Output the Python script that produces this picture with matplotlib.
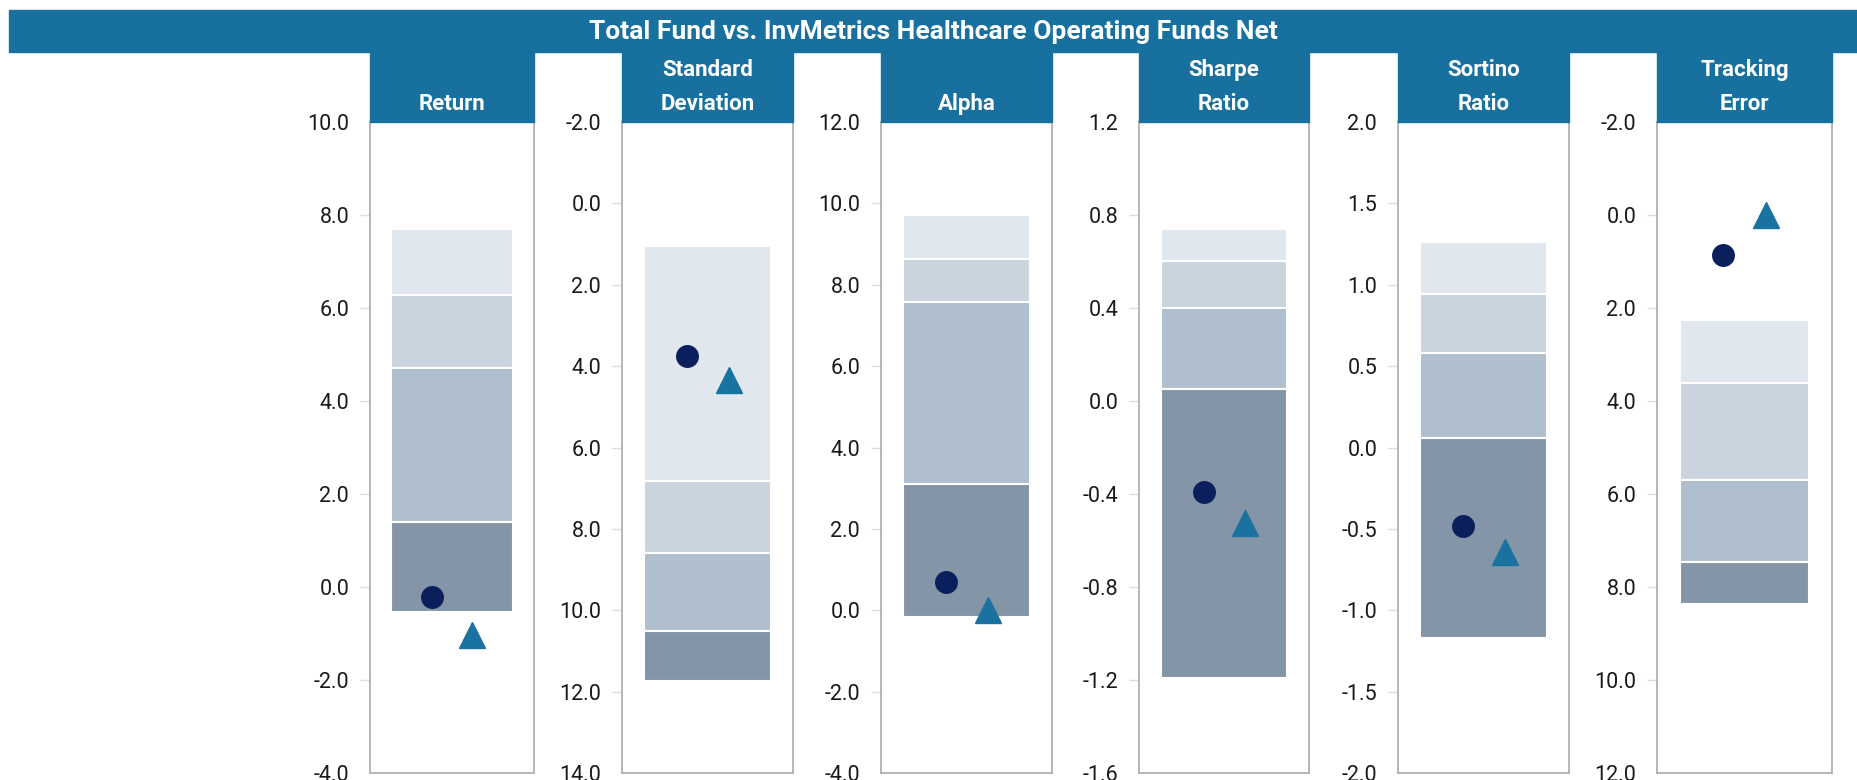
"""
Peer ranking floating bars: Total Fund vs. InvMetrics Healthcare Operating Funds Net
"""
import matplotlib
matplotlib.use('Agg')
import matplotlib.pyplot as plt
from matplotlib.patches import Rectangle

plt.rcParams['font.family'] = ['Roboto', 'DejaVu Sans']

# data
title = 'Total Fund vs. InvMetrics Healthcare Operating Funds Net'
metrics = ['Return', 'Standard\nDeviation', 'Alpha', 'Sharpe\nRatio',
           'Sortino\nRatio', 'Tracking\nError']
# percentile band edges, best -> worst (5th, 25th, median, 75th, 95th)
p05 = [7.69, 1.04, 9.71, 0.74, 1.26, 2.25]
p25 = [6.28, 6.83, 8.64, 0.60, 0.945, 3.62]
p50 = [4.70, 8.60, 7.57, 0.40, 0.58, 5.70]
p75 = [1.39, 10.50, 3.10, 0.05, 0.06, 7.47]
p95 = [-0.53, 11.73, -0.17, -1.19, -1.17, 8.36]
total_fund = [-0.21, 3.74, 0.69, -0.39, -0.48, 0.87]
benchmark = [-1.03, 4.34, 0.00, -0.525, -0.64, 0.00]
y_min = [-4.0, -2.0, -4.0, -1.6, -2.0, -2.0]
y_max = [10.0, 14.0, 12.0, 1.2, 2.0, 12.0]
y_step = [2.0, 2.0, 2.0, 0.4, 0.5, 2.0]
inverted = [False, True, False, False, False, True]

# styling
band_colors = ['#e1e7ef', '#cad4df', '#afbfce', '#8595a8']
header_color = '#17709d'
fund_color = '#0b1f5c'
bench_color = '#1a72a0'
W, H = 1858, 780

fig = plt.figure(figsize=(W / 100, H / 100), dpi=100)

# title banner
fig.patches.append(Rectangle((9 / W, 1 - 52 / H), 1 - 9 / W, 42 / H,
                             transform=fig.transFigure, color=header_color,
                             zorder=0))
fig.text((9 + W) / 2 / W, 1 - 32 / H, title, color='white',
         fontsize=19, fontweight='bold', ha='center', va='center')

lefts = [370, 622, 881, 1139, 1398, 1657]
widths = [164, 171, 171, 170, 171, 175]
ax_top, ax_bottom = 122, 773

for i, name in enumerate(metrics):
    ax = fig.add_axes([lefts[i] / W, 1 - ax_bottom / H, widths[i] / W,
                       (ax_bottom - ax_top) / H])

    # header box
    fig.patches.append(Rectangle((lefts[i] / W, 1 - ax_top / H),
                                 widths[i] / W, 70 / H,
                                 transform=fig.transFigure,
                                 color=header_color, zorder=0))
    fig.text((lefts[i] + widths[i] / 2) / W, 1 - 110 / H, name,
             color='white', fontsize=16, fontweight='bold', ha='center',
             va='baseline', linespacing=1.72)

    # floating percentile bands
    edges = [p05[i], p25[i], p50[i], p75[i], p95[i]]
    for k in range(4):
        lo, hi = sorted([edges[k], edges[k + 1]])
        ax.bar(0.5, hi - lo, bottom=lo, width=0.74, color=band_colors[k],
               edgecolor='white', linewidth=1.5, zorder=2)

    ax.plot(0.38, total_fund[i], marker='o', markersize=15.5,
            color=fund_color, linestyle='none', zorder=3)
    ax.plot(0.625, benchmark[i], marker='^', markersize=19,
            color=bench_color, linestyle='none', zorder=3)

    # axes formatting
    ax.set_xlim(0, 1)
    n_ticks = int(round((y_max[i] - y_min[i]) / y_step[i])) + 1
    ticks = [round(y_min[i] + k * y_step[i], 2) + 0.0 for k in range(n_ticks)]
    ax.set_yticks(ticks)
    ax.set_yticklabels(['%.1f' % t for t in ticks])
    if inverted[i]:
        ax.set_ylim(y_max[i], y_min[i])
    else:
        ax.set_ylim(y_min[i], y_max[i])
    ax.set_xticks([])
    ax.tick_params(axis='y', length=7, width=1, color='#dddddd', pad=8,
                   labelsize=15.5, labelcolor='#1a1a1a')
    for line in [ax.yaxis.get_ticklines()[0], ax.yaxis.get_ticklines()[-2]]:
        line.set_visible(False)
    for spine in ax.spines.values():
        spine.set_color('#b0b0b0')
        spine.set_linewidth(1.3)

fig.savefig('out.png', dpi=100)
plt.close()
